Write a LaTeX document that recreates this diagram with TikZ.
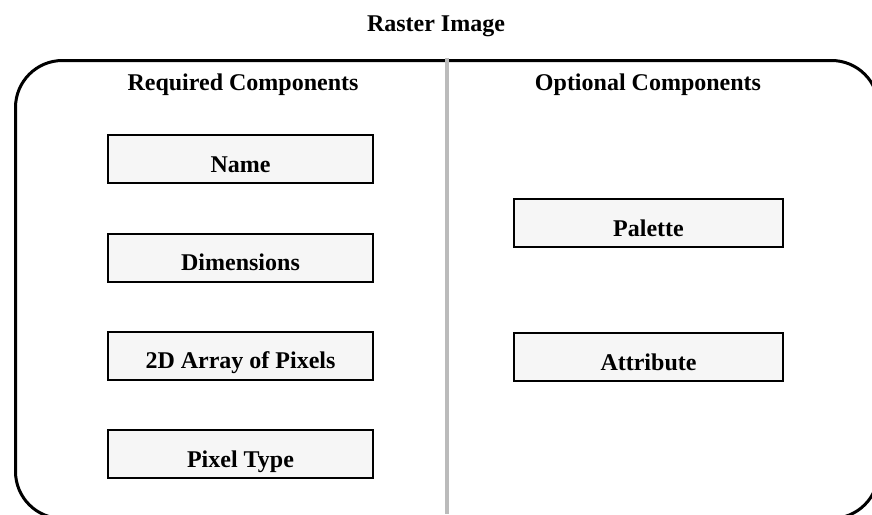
\documentclass[tikz,border=0pt]{standalone}
\usepackage{fontspec}
\setmainfont{Liberation Serif}
\usepackage{tikz}
\usetikzlibrary{calc}

\definecolor{boxgray}{HTML}{F6F6F6}
\definecolor{divgray}{HTML}{BBBBBB}

\tikzset{
    comp/.style={draw, line width=2pt, fill=boxgray, inner sep=0pt,
        minimum height=48pt, text height=37pt, text depth=11pt},
    head/.style={anchor=base}
}

\begin{document}
\begin{tikzpicture}[x=1pt, y=-1pt, font=\fontsize{24}{28}\selectfont\bfseries]
                \useasboundingbox (0,0) rectangle (872,514);
                \draw[line width=3pt, rounded corners=47pt] (15.5,60.5) rectangle (878.5,518.5);
                \draw[line width=4pt, color=divgray] (447,58) -- (447,514);
                \node[head] (title) at (436,31) {Raster Image};
                \node[head] (req) at (243,90) {Required Components};
                \node[head] (opt) at (648,90) {Optional Components};
                \node[comp, minimum width=265pt] (name) at (240.5,159) {Name};
                \node[comp, minimum width=265pt] (dims) at (240.5,257.5) {Dimensions};
                \node[comp, minimum width=265pt] (pixels) at (240.5,355.5) {2D Array of Pixels};
                \node[comp, minimum width=265pt] (ptype) at (240.5,454) {Pixel Type};
                \node[comp, minimum width=269pt] (palette) at (648.5,223) {Palette};
                \node[comp, minimum width=269pt] (attr) at (648.5,357) {Attribute};
            \end{tikzpicture}
\end{document}
